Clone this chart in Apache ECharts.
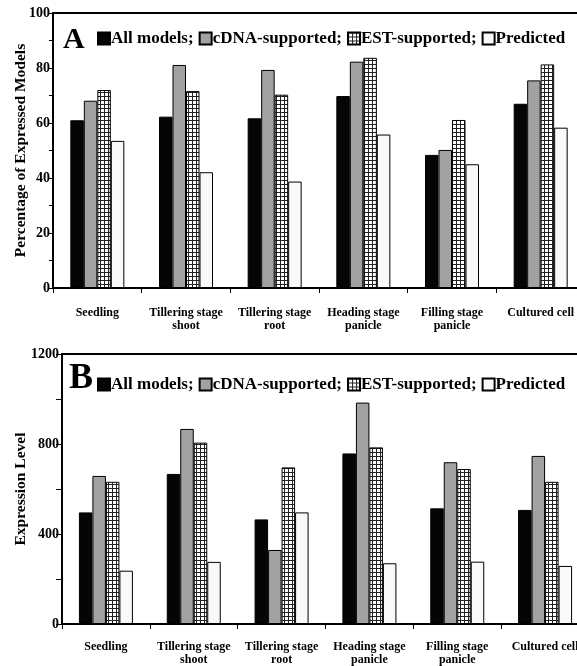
<!DOCTYPE html>
<html>
<head>
<meta charset="utf-8">
<script src="https://cdn.jsdelivr.net/npm/echarts@6/dist/echarts.min.js"></script>
<style>
  html, body { margin: 0; padding: 0; background: #fff; }
  #chart { width: 577px; height: 666px; }
</style>
</head>
<body>
<div id="chart"></div>
<script>
// ---- data ----
var categories = ['Seedling', 'Tillering stage\nshoot', 'Tillering stage\nroot', 'Heading stage\npanicle', 'Filling stage\npanicle', 'Cultured cell'];
var seriesNames = ['All models', 'cDNA-supported', 'EST-supported', 'Predicted'];
// Panel A: percentage of expressed models
var pctAll  = [61.0, 62.3, 61.7, 69.8, 48.4, 67.0];
var pctCdna = [68.1, 81.1, 79.3, 82.3, 50.2, 75.5];
var pctEst  = [72.0, 71.6, 70.3, 83.7, 61.1, 81.3];
var pctPred = [53.5, 42.1, 38.7, 55.8, 45.0, 58.3];
// Panel B: expression level
var lvlAll  = [496, 667, 465, 758, 514, 507];
var lvlCdna = [658, 867, 329, 984, 719, 747];
var lvlEst  = [632, 806, 696, 785, 689, 632];
var lvlPred = [237, 276, 496, 270, 277, 258];

// ---- grid pattern for EST bars ----
var pc = document.createElement('canvas');
pc.width = 4; pc.height = 4;
var g = pc.getContext('2d');
g.fillStyle = '#ffffff'; g.fillRect(0, 0, 4, 4);
g.fillStyle = '#222222';
g.fillRect(0, 0, 4, 1);
g.fillRect(0, 0, 1, 4);

var FONT = 'Liberation Serif';
var fills = ['#050505', '#a2a2a2', { image: pc, repeat: 'repeat' }, '#f9f9f9'];

function mkSeries(arrs, idx) {
  return arrs.map(function (d, i) {
    return {
      name: seriesNames[i], type: 'bar', xAxisIndex: idx, yAxisIndex: idx,
      data: d, barWidth: 13.5, barGap: '0%',
      itemStyle: { color: fills[i], borderColor: '#000', borderWidth: 1 },
      emphasis: { disabled: true }, animation: false
    };
  });
}

function legendFor(top) {
  return {
    left: 92, top: top, orient: 'horizontal', itemWidth: 12, itemHeight: 12, itemGap: 5,
    icon: 'rect', selectedMode: false,
    data: seriesNames,
    formatter: function (n) { return n === 'Predicted' ? n : n + ';'; },
    textStyle: { fontFamily: FONT, fontWeight: 'bold', fontSize: 17, color: '#000', padding: [0, 0, 0, -4] }
  };
}

function xAx(idx, margin, lh) {
  return {
    type: 'category', gridIndex: idx, data: categories,
    axisLine: { lineStyle: { color: '#000', width: 2 } },
    axisTick: { show: true, alignWithLabel: false, length: 5, lineStyle: { color: '#000', width: 1 } },
    axisLabel: { interval: 0, margin: margin, fontFamily: FONT, fontWeight: 'bold', fontSize: 12, color: '#000', lineHeight: lh }
  };
}

function yAx(idx, max, interval, name, nameSize, nameGap, tickLen) {
  return {
    type: 'value', gridIndex: idx, min: 0, max: max, interval: interval,
    name: name, nameLocation: 'middle', nameGap: nameGap, nameMoveOverlap: false,
    nameTextStyle: { fontFamily: FONT, fontWeight: 'bold', fontSize: nameSize, color: '#000' },
    axisLine: { show: true, lineStyle: { color: '#000', width: 2 } },
    axisTick: { show: true, length: tickLen, lineStyle: { color: '#000', width: 1 } },
    minorTick: { show: true, splitNumber: 2, length: tickLen, lineStyle: { color: '#000', width: 1 } },
    splitLine: { show: false },
    axisLabel: { margin: 3, fontFamily: FONT, fontWeight: 'bold', fontSize: 14, color: '#000',
      formatter: function (v) { return String(v); } }
  };
}

var chart = echarts.init(document.getElementById('chart'), null, { renderer: 'canvas' });
chart.setOption({
  backgroundColor: '#fff',
  animation: false,
  title: [
    { text: 'A', left: 58, top: 20, textStyle: { fontFamily: FONT, fontWeight: 'bold', fontSize: 30, color: '#000' } },
    { text: 'B', left: 64, top: 356, textStyle: { fontFamily: FONT, fontWeight: 'bold', fontSize: 36, color: '#000' } }
  ],
  legend: [legendFor(25), legendFor(371)],
  grid: [
    { left: 53, top: 13, width: 532, height: 275, outerBoundsMode: 'none', containLabel: false, show: true, borderColor: '#000', borderWidth: 2, backgroundColor: 'transparent' },
    { left: 62, top: 354, width: 527, height: 270, outerBoundsMode: 'none', containLabel: false, show: true, borderColor: '#000', borderWidth: 2, backgroundColor: 'transparent' }
  ],
  xAxis: [xAx(0, 18, 13), xAx(1, 16, 13)],
  yAxis: [
    yAx(0, 100, 20, 'Percentage of Expressed Models', 15.5, 24, 4),
    yAx(1, 1200, 400, 'Expression Level', 15.5, 33, 6)
  ],
  series: mkSeries([pctAll, pctCdna, pctEst, pctPred], 0).concat(mkSeries([lvlAll, lvlCdna, lvlEst, lvlPred], 1))
});
</script>
</body>
</html>
